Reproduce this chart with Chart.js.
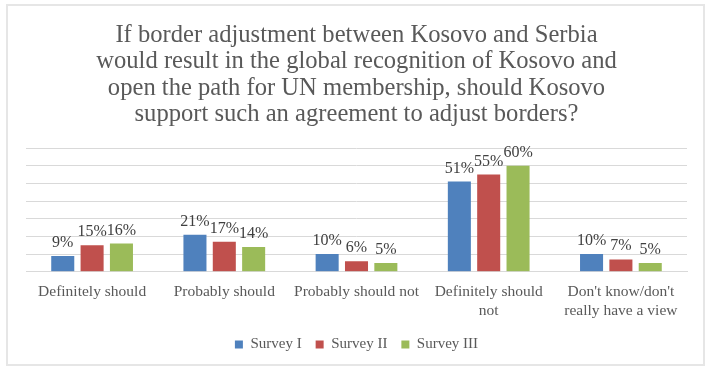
<!DOCTYPE html>
<html>
<head>
<meta charset="utf-8">
<script src="https://cdn.jsdelivr.net/npm/chart.js@4"></script>
<style>
  html, body { margin: 0; padding: 0; background: #fff; }
  #box {
    position: absolute; left: 6px; top: 4px;
    width: 695px; height: 358px;
    border: 2px solid #e6e6e6;
  }
</style>
</head>
<body>
<div id="box"><canvas id="chart"></canvas></div>
<script>
const categories = [
  'Definitely should',
  'Probably should',
  'Probably should not',
  ['Definitely should', 'not'],
  ["Don't know/don't", 'really have a view']
];
const surveyI = [9, 21, 10, 51, 10];
const surveyII = [15, 17, 6, 55, 7];
const surveyIII = [16, 14, 5, 60, 5];
const titleLines = [
  'If border adjustment between Kosovo and Serbia',
  'would result in the global recognition of Kosovo and',
  'open the path for UN membership, should Kosovo',
  'support such an agreement to adjust borders?'
];

const FONT = "'Liberation Serif', serif";

// percent labels over each bar
const barLabels = {
  id: 'barLabels',
  afterDatasetsDraw(chart) {
    const ctx = chart.ctx;
    ctx.save();
    ctx.font = '16px ' + FONT;
    ctx.fillStyle = '#404040';
    ctx.textAlign = 'center';
    ctx.textBaseline = 'alphabetic';
    chart.data.datasets.forEach(function(ds, i) {
      const meta = chart.getDatasetMeta(i);
      meta.data.forEach(function(bar, j) {
        ctx.fillText(ds.data[j] + '%', bar.x, bar.y - 9);
      });
    });
    ctx.restore();
  }
};

const canvas = document.getElementById('chart');
canvas.width = 695;
canvas.height = 358;

new Chart(canvas, {
  type: 'bar',
  data: {
    labels: categories,
    datasets: [
      { label: 'Survey I', data: surveyI, backgroundColor: '#4f81bd' },
      { label: 'Survey II', data: surveyII, backgroundColor: '#c0504d' },
      { label: 'Survey III', data: surveyIII, backgroundColor: '#9bbb59' }
    ]
  },
  options: {
    responsive: false,
    animation: false,
    categoryPercentage: 0.666,
    barPercentage: 0.785,
    layout: { padding: { left: 18, right: 16, top: 16, bottom: 2 } },
    plugins: {
      title: {
        display: true,
        text: titleLines,
        color: '#595959',
        font: { family: FONT, size: 24.6, weight: 'normal', lineHeight: 26.5 / 24.6 },
        padding: { top: 0, bottom: 20 }
      },
      legend: {
        position: 'bottom',
        labels: {
          color: '#595959',
          font: { family: FONT, size: 15 },
          boxWidth: 8,
          boxHeight: 8,
          padding: 14
        }
      },
      tooltip: { enabled: false }
    },
    scales: {
      x: {
        grid: { display: false },
        border: { color: '#d9d9d9' },
        ticks: {
          color: '#595959',
          font: { family: FONT, size: 15.5 },
          maxRotation: 0,
          autoSkip: false
        }
      },
      y: {
        min: 0,
        max: 70,
        ticks: { display: false, stepSize: 10 },
        border: { display: false },
        grid: { color: '#d9d9d9', lineWidth: 1, drawTicks: false }
      }
    }
  },
  plugins: [barLabels]
});
</script>
</body>
</html>
